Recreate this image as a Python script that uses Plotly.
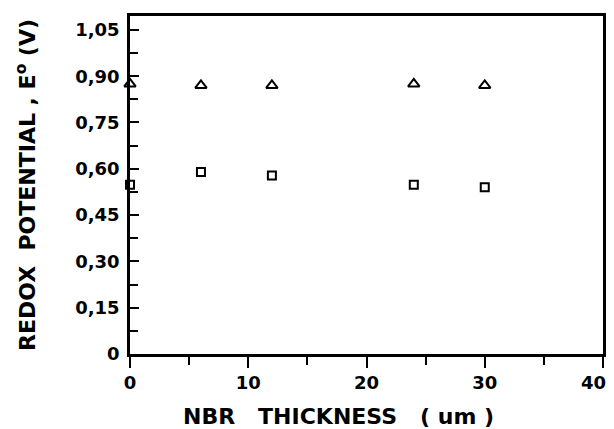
import plotly.graph_objects as go

thickness = [0, 6, 12, 24, 30]
e_triangle = [0.875, 0.87, 0.87, 0.875, 0.87]
e_square = [0.548, 0.59, 0.578, 0.548, 0.54]

y_ticks = [0, 0.15, 0.30, 0.45, 0.60, 0.75, 0.90, 1.05]
y_ticktext = ["0", "0,15", "0,30", "0,45", "0,60", "0,75", "0,90", "1,05"]
x_ticks = [0, 10, 20, 30, 40]
x_ticktext = ["0", "10", "20", "30", ""]
x_edge_label = "40"
x_title = "NBR   THICKNESS   ( um )"
y_title = "REDOX  POTENTIAL , E<sup>o</sup> (V)"

font_family = "DejaVu Sans"

fig = go.Figure()
fig.add_trace(go.Scatter(
    x=thickness, y=e_triangle, mode="markers",
    marker=dict(symbol="triangle-up-open", size=10, color="black", line=dict(width=2, color="black")),
    cliponaxis=False, showlegend=False))
fig.add_trace(go.Scatter(
    x=thickness, y=e_square, mode="markers",
    marker=dict(symbol="square-open", size=8, color="black", line=dict(width=2, color="black")),
    cliponaxis=False, showlegend=False))

fig.add_annotation(
    x=x_ticks[-1], y=0, xref="x", yref="y", text="<b>" + x_edge_label + "</b>",
    showarrow=False, xanchor="right", yanchor="top", xshift=5, yshift=-16,
    font=dict(family=font_family, size=18, color="black"))

fig.add_annotation(
    x=0.441, y=-0.186, xref="paper", yref="paper", text="<b>" + x_title + "</b>",
    showarrow=False, xanchor="center", yanchor="middle",
    font=dict(family=font_family, size=22, color="black"))

fig.update_layout(
    width=614, height=429,
    margin=dict(l=130, r=8, t=16, b=75),
    paper_bgcolor="white", plot_bgcolor="white",
    font=dict(family=font_family, color="black", size=17),
    xaxis=dict(
        range=[0, 40], tickvals=x_ticks, ticktext=["<b>" + t + "</b>" if t else "" for t in x_ticktext],
        showline=True, linecolor="black", linewidth=2.5, mirror=True,
        ticks="outside", ticklen=11, tickwidth=2, tickcolor="black",
        minor=dict(dtick=5, ticks="outside", ticklen=8, tickwidth=2, tickcolor="black"),
        showgrid=False, zeroline=False,
        tickfont=dict(size=18),
    ),
    yaxis=dict(
        range=[0, 1.095], tickvals=y_ticks, ticktext=["<b>" + t + "</b>" for t in y_ticktext],
        showline=True, linecolor="black", linewidth=2.5, mirror=True,
        ticks="inside", ticklen=9, tickwidth=2, tickcolor="black",
        minor=dict(dtick=0.075, tick0=0, ticks="inside", ticklen=8, tickwidth=2, tickcolor="black"),
        showgrid=False, zeroline=False,
        tickfont=dict(size=18), ticklabelstandoff=4,
        title=dict(text="<b>" + y_title + "</b>", font=dict(size=22), standoff=34),
    ),
)

fig.write_html("out.html")
